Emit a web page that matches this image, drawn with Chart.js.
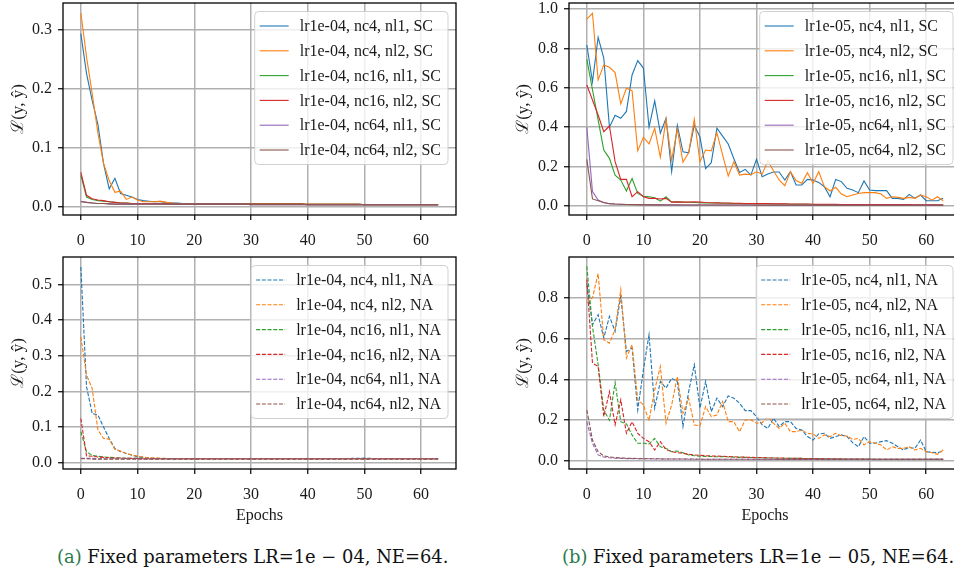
<!DOCTYPE html>
<html><head><meta charset="utf-8">
<script src="https://cdn.jsdelivr.net/npm/chart.js@4.4.0/dist/chart.umd.min.js"></script>
<style>
html,body{margin:0;padding:0;width:954px;height:573px;overflow:hidden;background:#fff;position:relative;}
.box{position:absolute;}
.cap{position:absolute;font-family:"DejaVu Serif","Liberation Serif",serif;font-size:17.9px;color:#111;white-space:nowrap;top:546px;}
.cap span{color:#2a7a4a;}
</style></head><body>
<div class="box" style="left:0;top:0;width:470px;height:250px"><canvas id="c1"></canvas></div>
<div class="box" style="left:480px;top:0;width:490px;height:250px"><canvas id="c2"></canvas></div>
<div class="box" style="left:0;top:250px;width:470px;height:280px"><canvas id="c3"></canvas></div>
<div class="box" style="left:480px;top:250px;width:490px;height:280px"><canvas id="c4"></canvas></div>
<div class="cap" style="left:57px"><span>(a)</span> Fixed parameters LR=1e − 04, NE=64.</div>
<div class="cap" style="left:562px"><span>(b)</span> Fixed parameters LR=1e − 05, NE=64.</div>
<script>
const epochs = [0,1,2,3,4,5,6,7,8,9,10,11,12,13,14,15,16,17,18,19,20,21,22,23,24,25,26,27,28,29,30,31,
  32,33,34,35,36,37,38,39,40,41,42,43,44,45,46,47,48,49,50,51,52,53,54,55,56,57,58,59,60,61,62,63];
const xTicks = [0,10,20,30,40,50,60];
const yTicksTL = [0.0,0.1,0.2,0.3];
const yTicksTR = [0.0,0.2,0.4,0.6,0.8,1.0];
const yTicksBL = [0.0,0.1,0.2,0.3,0.4,0.5];
const yTicksBR = [0.0,0.2,0.4,0.6,0.8];

const labelsA_SC = ['lr1e-04, nc4, nl1, SC','lr1e-04, nc4, nl2, SC','lr1e-04, nc16, nl1, SC','lr1e-04, nc16, nl2, SC','lr1e-04, nc64, nl1, SC','lr1e-04, nc64, nl2, SC'];
const labelsB_SC = ['lr1e-05, nc4, nl1, SC','lr1e-05, nc4, nl2, SC','lr1e-05, nc16, nl1, SC','lr1e-05, nc16, nl2, SC','lr1e-05, nc64, nl1, SC','lr1e-05, nc64, nl2, SC'];
const labelsA_NA = ['lr1e-04, nc4, nl1, NA','lr1e-04, nc4, nl2, NA','lr1e-04, nc16, nl1, NA','lr1e-04, nc16, nl2, NA','lr1e-04, nc64, nl1, NA','lr1e-04, nc64, nl2, NA'];
const labelsB_NA = ['lr1e-05, nc4, nl1, NA','lr1e-05, nc4, nl2, NA','lr1e-05, nc16, nl1, NA','lr1e-05, nc16, nl2, NA','lr1e-05, nc64, nl1, NA','lr1e-05, nc64, nl2, NA'];

// (a) lr1e-04, SC
const a_sc_nc4_nl1 = [0.294,0.226,0.180,0.140,0.073,0.030,0.048,0.022,0.019,0.016,
 0.012,0.010,0.009,0.008,0.008,0.007,0.006,0.006,0.005,0.005,
 0.005,0.005,0.005,0.004,0.004,0.004,0.004,0.004,0.004,0.004,
 0.004,0.004,0.004,0.004,0.004,0.004,0.004,0.004,0.004,0.004,
 0.004,0.004,0.004,0.004,0.004,0.004,0.004,0.004,0.004,0.004,
 0.003,0.003,0.003,0.003,0.003,0.003,0.003,0.003,0.003,0.003,
 0.003,0.003,0.003,0.003];
const a_sc_nc4_nl2 = [0.329,0.254,0.192,0.125,0.073,0.044,0.024,0.026,0.012,0.016,
 0.011,0.008,0.008,0.008,0.009,0.007,0.006,0.005,0.005,0.005,
 0.005,0.005,0.004,0.004,0.004,0.004,0.004,0.004,0.004,0.004,
 0.004,0.004,0.004,0.004,0.004,0.004,0.004,0.004,0.004,0.004,
 0.004,0.004,0.004,0.004,0.004,0.004,0.004,0.004,0.004,0.004,
 0.003,0.003,0.003,0.003,0.003,0.003,0.003,0.003,0.003,0.003,
 0.003,0.003,0.003,0.003];
const a_sc_nc16_nl1 = [0.053,0.016,0.012,0.010,0.009,0.008,0.007,0.006,0.006,0.005,
 0.005,0.005,0.005,0.005,0.005,0.004,0.004,0.004,0.004,0.004,
 0.004,0.004,0.004,0.004,0.004,0.004,0.004,0.004,0.004,0.004,
 0.004,0.004,0.004,0.004,0.004,0.004,0.004,0.004,0.004,0.004,
 0.003,0.003,0.003,0.003,0.003,0.003,0.003,0.003,0.003,0.003,
 0.003,0.003,0.003,0.003,0.003,0.003,0.003,0.003,0.003,0.003,
 0.003,0.003,0.003,0.003];
const a_sc_nc16_nl2 = [0.058,0.019,0.013,0.011,0.010,0.008,0.007,0.006,0.006,0.005,
 0.005,0.005,0.005,0.005,0.005,0.005,0.004,0.004,0.004,0.004,
 0.004,0.004,0.004,0.004,0.004,0.004,0.004,0.004,0.004,0.004,
 0.004,0.004,0.004,0.004,0.004,0.004,0.004,0.004,0.004,0.004,
 0.003,0.003,0.003,0.003,0.003,0.003,0.003,0.003,0.003,0.003,
 0.003,0.003,0.003,0.003,0.003,0.003,0.003,0.003,0.003,0.003,
 0.003,0.003,0.003,0.003];
const a_sc_nc64_nl1 = [0.009,0.007,0.006,0.005,0.005,0.005,0.004,0.004,0.004,0.004,
 0.004,0.004,0.004,0.004,0.004,0.004,0.004,0.004,0.004,0.004,
 0.004,0.004,0.004,0.004,0.004,0.004,0.004,0.004,0.004,0.004,
 0.003,0.003,0.003,0.003,0.003,0.003,0.003,0.003,0.003,0.003,
 0.003,0.003,0.003,0.003,0.003,0.003,0.003,0.003,0.003,0.003,
 0.003,0.003,0.003,0.003,0.003,0.003,0.003,0.003,0.003,0.003,
 0.003,0.003,0.003,0.003];
const a_sc_nc64_nl2 = [0.008,0.007,0.006,0.005,0.005,0.004,0.004,0.004,0.004,0.004,
 0.004,0.004,0.004,0.004,0.004,0.004,0.004,0.004,0.004,0.004,
 0.004,0.004,0.004,0.004,0.004,0.004,0.004,0.004,0.004,0.004,
 0.003,0.003,0.003,0.003,0.003,0.003,0.003,0.003,0.003,0.003,
 0.003,0.003,0.003,0.003,0.003,0.003,0.003,0.003,0.003,0.003,
 0.003,0.003,0.003,0.003,0.003,0.003,0.003,0.003,0.003,0.003,
 0.003,0.003,0.003,0.003];

// (b) lr1e-05, SC
const b_sc_nc4_nl1 = [0.817,0.630,0.856,0.750,0.400,0.460,0.445,0.480,0.665,0.738,
 0.700,0.400,0.533,0.370,0.445,0.175,0.410,0.275,0.270,0.410,
 0.350,0.190,0.220,0.395,0.355,0.315,0.240,0.170,0.186,0.157,
 0.237,0.149,0.162,0.173,0.173,0.132,0.174,0.107,0.107,0.135,
 0.132,0.120,0.098,0.047,0.135,0.124,0.090,0.081,0.068,0.127,
 0.081,0.078,0.078,0.078,0.039,0.039,0.034,0.059,0.039,0.056,
 0.027,0.027,0.027,0.039];
const b_sc_nc4_nl2 = [0.948,0.978,0.640,0.716,0.704,0.677,0.518,0.597,0.585,0.280,
 0.349,0.315,0.394,0.247,0.440,0.233,0.390,0.222,0.270,0.440,
 0.225,0.284,0.280,0.372,0.259,0.152,0.225,0.157,0.162,0.159,
 0.174,0.162,0.230,0.179,0.132,0.103,0.174,0.129,0.115,0.169,
 0.115,0.174,0.098,0.076,0.095,0.061,0.047,0.056,0.064,0.068,
 0.068,0.068,0.061,0.039,0.047,0.044,0.039,0.044,0.039,0.056,
 0.047,0.030,0.047,0.027];
const b_sc_nc16_nl1 = [0.745,0.590,0.437,0.284,0.242,0.157,0.132,0.076,0.140,0.064,
 0.050,0.047,0.042,0.025,0.047,0.020,0.022,0.020,0.019,0.018,
 0.017,0.016,0.015,0.015,0.014,0.014,0.013,0.013,0.012,0.012,
 0.011,0.011,0.011,0.010,0.010,0.010,0.009,0.009,0.009,0.009,
 0.008,0.008,0.008,0.008,0.008,0.007,0.007,0.007,0.007,0.007,
 0.007,0.006,0.006,0.006,0.006,0.006,0.006,0.006,0.005,0.005,
 0.005,0.005,0.005,0.005];
const b_sc_nc16_nl2 = [0.614,0.538,0.462,0.377,0.406,0.225,0.135,0.135,0.047,0.073,
 0.047,0.039,0.039,0.036,0.039,0.020,0.021,0.020,0.020,0.022,
 0.020,0.018,0.017,0.016,0.015,0.015,0.014,0.014,0.013,0.013,
 0.012,0.012,0.012,0.011,0.011,0.011,0.010,0.010,0.010,0.010,
 0.009,0.009,0.009,0.009,0.009,0.008,0.008,0.008,0.008,0.008,
 0.008,0.007,0.007,0.007,0.007,0.007,0.007,0.007,0.006,0.006,
 0.006,0.006,0.006,0.006];
const b_sc_nc64_nl1 = [0.400,0.073,0.030,0.017,0.012,0.010,0.009,0.008,0.008,0.007,
 0.007,0.007,0.006,0.006,0.006,0.006,0.006,0.005,0.005,0.005,
 0.005,0.005,0.005,0.005,0.005,0.005,0.005,0.005,0.005,0.005,
 0.004,0.004,0.004,0.004,0.004,0.004,0.004,0.004,0.004,0.004,
 0.004,0.004,0.004,0.004,0.004,0.004,0.004,0.004,0.004,0.004,
 0.004,0.004,0.004,0.004,0.004,0.004,0.004,0.004,0.004,0.004,
 0.004,0.004,0.004,0.004];
const b_sc_nc64_nl2 = [0.237,0.036,0.027,0.018,0.012,0.010,0.009,0.008,0.007,0.007,
 0.006,0.006,0.006,0.006,0.005,0.005,0.005,0.005,0.005,0.005,
 0.005,0.005,0.005,0.005,0.005,0.005,0.005,0.005,0.005,0.005,
 0.004,0.004,0.004,0.004,0.004,0.004,0.004,0.004,0.004,0.004,
 0.004,0.004,0.004,0.004,0.004,0.004,0.004,0.004,0.004,0.004,
 0.004,0.004,0.004,0.004,0.004,0.004,0.004,0.004,0.004,0.004,
 0.004,0.004,0.004,0.004];

// (a) lr1e-04, NA
const a_na_nc4_nl1 = [0.549,0.213,0.138,0.134,0.100,0.068,0.040,0.031,0.026,0.021,
 0.017,0.015,0.013,0.012,0.012,0.011,0.011,0.011,0.011,0.011,
 0.011,0.011,0.011,0.011,0.011,0.011,0.011,0.011,0.011,0.011,
 0.011,0.011,0.011,0.011,0.011,0.011,0.011,0.011,0.011,0.011,
 0.011,0.011,0.011,0.011,0.011,0.011,0.011,0.011,0.012,0.012,
 0.013,0.012,0.011,0.011,0.011,0.011,0.011,0.011,0.011,0.011,
 0.011,0.011,0.011,0.011];
const a_na_nc4_nl2 = [0.353,0.246,0.208,0.092,0.068,0.066,0.037,0.033,0.026,0.022,
 0.018,0.016,0.014,0.013,0.012,0.012,0.011,0.011,0.011,0.011,
 0.011,0.011,0.011,0.011,0.011,0.011,0.011,0.011,0.011,0.011,
 0.011,0.011,0.011,0.011,0.011,0.011,0.011,0.011,0.011,0.011,
 0.011,0.011,0.011,0.011,0.011,0.011,0.011,0.011,0.011,0.011,
 0.011,0.011,0.011,0.011,0.011,0.011,0.011,0.011,0.011,0.011,
 0.011,0.011,0.011,0.011];
const a_na_nc16_nl1 = [0.087,0.031,0.020,0.018,0.016,0.015,0.014,0.013,0.013,0.012,
 0.012,0.012,0.011,0.011,0.011,0.011,0.011,0.011,0.011,0.011,
 0.011,0.011,0.011,0.011,0.011,0.011,0.011,0.011,0.011,0.011,
 0.011,0.011,0.011,0.011,0.011,0.011,0.011,0.011,0.011,0.011,
 0.011,0.011,0.011,0.011,0.011,0.011,0.011,0.011,0.011,0.011,
 0.011,0.011,0.011,0.011,0.011,0.011,0.011,0.011,0.011,0.011,
 0.011,0.011,0.011,0.011];
const a_na_nc16_nl2 = [0.124,0.019,0.018,0.016,0.015,0.014,0.013,0.013,0.012,0.012,
 0.012,0.011,0.011,0.011,0.011,0.011,0.011,0.011,0.011,0.011,
 0.011,0.011,0.011,0.011,0.011,0.011,0.011,0.011,0.011,0.011,
 0.011,0.011,0.011,0.011,0.011,0.011,0.011,0.011,0.011,0.011,
 0.011,0.011,0.011,0.011,0.011,0.011,0.011,0.011,0.011,0.011,
 0.011,0.011,0.011,0.011,0.011,0.011,0.011,0.011,0.011,0.011,
 0.011,0.011,0.011,0.011];
const a_na_nc64_nl1 = [0.012,0.012,0.012,0.011,0.011,0.011,0.011,0.011,0.011,0.011,
 0.011,0.011,0.011,0.011,0.011,0.011,0.011,0.011,0.011,0.011,
 0.011,0.011,0.011,0.011,0.011,0.011,0.011,0.011,0.011,0.011,
 0.011,0.011,0.011,0.011,0.011,0.011,0.011,0.011,0.011,0.011,
 0.011,0.011,0.011,0.011,0.011,0.011,0.011,0.011,0.011,0.011,
 0.011,0.011,0.011,0.011,0.011,0.011,0.011,0.011,0.011,0.011,
 0.011,0.011,0.011,0.011];
const a_na_nc64_nl2 = [0.011,0.011,0.010,0.010,0.010,0.010,0.010,0.010,0.010,0.010,
 0.010,0.010,0.010,0.010,0.010,0.010,0.010,0.010,0.010,0.010,
 0.010,0.010,0.010,0.010,0.010,0.010,0.010,0.010,0.010,0.010,
 0.010,0.010,0.010,0.010,0.010,0.010,0.010,0.010,0.010,0.010,
 0.010,0.010,0.010,0.010,0.010,0.010,0.010,0.010,0.010,0.010,
 0.010,0.010,0.010,0.010,0.010,0.010,0.010,0.010,0.010,0.010,
 0.010,0.010,0.010,0.010];

// (b) lr1e-05, NA
const b_na_nc4_nl1 = [0.870,0.668,0.717,0.603,0.709,0.636,0.808,0.537,0.554,0.250,
 0.447,0.619,0.259,0.390,0.357,0.406,0.390,0.169,0.340,0.472,
 0.259,0.390,0.242,0.308,0.267,0.319,0.308,0.283,0.247,0.247,
 0.218,0.177,0.160,0.210,0.169,0.193,0.193,0.160,0.152,0.120,
 0.103,0.133,0.136,0.111,0.120,0.128,0.120,0.090,0.070,0.120,
 0.087,0.087,0.095,0.100,0.087,0.070,0.054,0.067,0.062,0.103,
 0.046,0.043,0.041,0.049];
const b_na_nc4_nl2 = [0.775,0.800,0.919,0.595,0.578,0.644,0.840,0.505,0.570,0.300,
 0.275,0.198,0.349,0.464,0.185,0.275,0.414,0.234,0.308,0.177,
 0.172,0.267,0.218,0.226,0.292,0.193,0.193,0.144,0.201,0.201,
 0.185,0.188,0.218,0.185,0.160,0.185,0.144,0.144,0.152,0.136,
 0.133,0.111,0.128,0.120,0.136,0.124,0.123,0.106,0.111,0.079,
 0.095,0.087,0.079,0.054,0.070,0.062,0.062,0.070,0.054,0.062,
 0.046,0.041,0.033,0.054];
const b_na_nc16_nl1 = [0.955,0.660,0.472,0.250,0.200,0.385,0.193,0.182,0.128,0.087,
 0.087,0.084,0.111,0.070,0.062,0.046,0.049,0.041,0.030,0.026,
 0.024,0.023,0.022,0.021,0.022,0.020,0.019,0.018,0.018,0.017,
 0.016,0.016,0.015,0.015,0.014,0.014,0.013,0.013,0.013,0.012,
 0.012,0.012,0.011,0.011,0.011,0.011,0.010,0.010,0.010,0.010,
 0.010,0.009,0.009,0.009,0.009,0.009,0.009,0.008,0.008,0.008,
 0.008,0.008,0.008,0.008];
const b_na_nc16_nl2 = [0.890,0.480,0.464,0.218,0.340,0.177,0.300,0.136,0.193,0.136,
 0.111,0.095,0.054,0.095,0.057,0.046,0.041,0.038,0.033,0.030,
 0.028,0.026,0.025,0.024,0.023,0.022,0.021,0.020,0.019,0.018,
 0.017,0.017,0.016,0.015,0.015,0.014,0.014,0.013,0.013,0.012,
 0.012,0.012,0.011,0.011,0.011,0.010,0.010,0.010,0.010,0.010,
 0.009,0.009,0.009,0.009,0.009,0.009,0.008,0.008,0.008,0.008,
 0.008,0.008,0.008,0.008];
const b_na_nc64_nl1 = [0.193,0.087,0.030,0.020,0.016,0.014,0.013,0.012,0.012,0.011,
 0.011,0.011,0.010,0.010,0.010,0.010,0.010,0.010,0.009,0.009,
 0.009,0.009,0.009,0.009,0.009,0.009,0.009,0.009,0.009,0.009,
 0.008,0.008,0.008,0.008,0.008,0.008,0.008,0.008,0.008,0.008,
 0.008,0.008,0.008,0.008,0.008,0.008,0.008,0.008,0.008,0.008,
 0.008,0.008,0.008,0.008,0.008,0.008,0.008,0.008,0.008,0.008,
 0.008,0.008,0.008,0.008];
const b_na_nc64_nl2 = [0.250,0.103,0.046,0.025,0.020,0.017,0.015,0.014,0.013,0.012,
 0.012,0.011,0.011,0.011,0.010,0.010,0.010,0.010,0.010,0.010,
 0.009,0.009,0.009,0.009,0.009,0.009,0.009,0.009,0.009,0.009,
 0.009,0.009,0.009,0.009,0.008,0.008,0.008,0.008,0.008,0.008,
 0.008,0.008,0.008,0.008,0.008,0.008,0.008,0.008,0.008,0.008,
 0.008,0.008,0.008,0.008,0.008,0.008,0.008,0.008,0.008,0.008,
 0.008,0.008,0.008,0.008];

const COLORS = ['#1f77b4','#ff7f0e','#2ca02c','#d62728','#9467bd','#8c564b'];
const FONT = '"Liberation Serif", "DejaVu Serif", serif';
const TICKFONT = {family: FONT, size: 16};
Chart.defaults.font.family = FONT;
Chart.defaults.font.size = 16;
Chart.defaults.color = '#1a1a1a';

const framePlugin = {
  id: 'frame',
  afterDatasetsDraw(chart) {
    const {ctx, chartArea: a} = chart;
    ctx.save();
    ctx.strokeStyle = '#000';
    ctx.lineWidth = 1.3;
    ctx.strokeRect(a.left, a.top, a.right - a.left, a.bottom - a.top);
    ctx.restore();
  }
};

const legendPlugin = {
  id: 'mplLegend',
  afterDraw(chart) {
    const {ctx, chartArea: a} = chart;
    const ds = chart.data.datasets;
    ctx.save();
    ctx.font = '16px ' + FONT;
    let tw = 0;
    ds.forEach(d => { tw = Math.max(tw, ctx.measureText(d.label).width); });
    const rowH = 24.8;
    const w = 45 + tw + 7;
    const h = 153;
    const x0 = a.right - 8 - w;
    const y0 = a.top + 8.5;
    ctx.beginPath();
    ctx.roundRect(x0, y0, w, h, 4);
    ctx.fillStyle = 'rgba(255,255,255,0.8)';
    ctx.fill();
    ctx.strokeStyle = 'rgba(204,204,204,0.9)';
    ctx.lineWidth = 1;
    ctx.stroke();
    ds.forEach((d, i) => {
      const cy = y0 + h / 2 + (i - 2.5) * rowH;
      ctx.beginPath();
      ctx.setLineDash(d.borderDash || []);
      ctx.strokeStyle = d.borderColor;
      ctx.lineWidth = d.borderWidth;
      ctx.moveTo(x0 + 5, cy);
      ctx.lineTo(x0 + 34, cy);
      ctx.stroke();
      ctx.setLineDash([]);
      ctx.fillStyle = '#1a1a1a';
      ctx.textBaseline = 'middle';
      ctx.textAlign = 'left';
      ctx.fillText(d.label, x0 + 45, cy + 1);
    });
    ctx.restore();
  }
};

function makeChart(id, series, labels, dashed, yr, yTicks, lay) {
  return new Chart(document.getElementById(id), {
    type: 'line',
    data: {
      datasets: series.map((vals, i) => ({
        label: labels[i],
        data: vals.map((v, j) => ({x: epochs[j], y: v})),
        borderColor: COLORS[i],
        backgroundColor: COLORS[i],
        borderWidth: 1.1,
        borderDash: dashed ? [4, 1.7] : [],
        pointRadius: 0,
        tension: 0,
        fill: false,
        order: -i
      }))
    },
    options: {
      responsive: true,
      maintainAspectRatio: false,
      animation: false,
      devicePixelRatio: 1,
      layout: {padding: {top: lay.top, right: lay.right, bottom: 0, left: 0}},
      plugins: {legend: {display: false}, tooltip: {enabled: false}},
      scales: {
        x: {
          type: 'linear', min: -3.15, max: 66.15,
          afterBuildTicks: s => { s.ticks = xTicks.map(v => ({value: v})); },
          afterFit: s => { s.height = lay.xh; s.paddingLeft = 0; s.paddingRight = 0; },
          ticks: {padding: 11, maxRotation: 0, autoSkip: false, font: TICKFONT, color: '#1a1a1a', callback: v => String(v)},
          grid: {color: '#b0b0b0', lineWidth: 1.5, tickLength: 5, tickColor: '#000', tickWidth: 1.2},
          border: {display: false},
          title: {display: lay.showX, text: 'Epochs', font: TICKFONT, padding: {top: 0, bottom: 5}}
        },
        y: {
          type: 'linear', min: yr[0], max: yr[1],
          afterBuildTicks: s => { s.ticks = yTicks.map(v => ({value: v})); },
          afterFit: s => { s.width = lay.yw; s.paddingTop = 0; s.paddingBottom = 0; },
          ticks: {padding: 6, font: TICKFONT, color: '#1a1a1a', callback: v => v.toFixed(1)},
          grid: {color: '#b0b0b0', lineWidth: 1.5, tickLength: 5, tickColor: '#000', tickWidth: 1.2},
          border: {display: false},
          title: {display: true, text: 'ℒ(y, ŷ)', font: {family: FONT, size: 17}, padding: {top: lay.tp, bottom: 0}}
        }
      }
    },
    plugins: [framePlugin, legendPlugin]
  });
}

makeChart('c1', [a_sc_nc4_nl1, a_sc_nc4_nl2, a_sc_nc16_nl1, a_sc_nc16_nl2, a_sc_nc64_nl1, a_sc_nc64_nl2],
  labelsA_SC, false, [-0.0145, 0.346], yTicksTL, {top: 3, right: 14, xh: 35, yw: 63, tp: 8.5, showX: false});
makeChart('c2', [b_sc_nc4_nl1, b_sc_nc4_nl2, b_sc_nc16_nl1, b_sc_nc16_nl2, b_sc_nc64_nl1, b_sc_nc64_nl2],
  labelsB_SC, false, [-0.0455, 1.030], yTicksTR, {top: 3, right: 9, xh: 35, yw: 89, tp: 33.5, showX: false});
makeChart('c3', [a_na_nc4_nl1, a_na_nc4_nl2, a_na_nc16_nl1, a_na_nc16_nl2, a_na_nc64_nl1, a_na_nc64_nl2],
  labelsA_NA, true, [-0.0177, 0.577], yTicksBL, {top: 7, right: 14, xh: 61, yw: 63, tp: 8.5, showX: true});
makeChart('c4', [b_na_nc4_nl1, b_na_nc4_nl2, b_na_nc16_nl1, b_na_nc16_nl2, b_na_nc64_nl1, b_na_nc64_nl2],
  labelsB_NA, true, [-0.039, 1.0], yTicksBR, {top: 7, right: 9, xh: 61, yw: 89, tp: 33.5, showX: true});
</script>
</body></html>
